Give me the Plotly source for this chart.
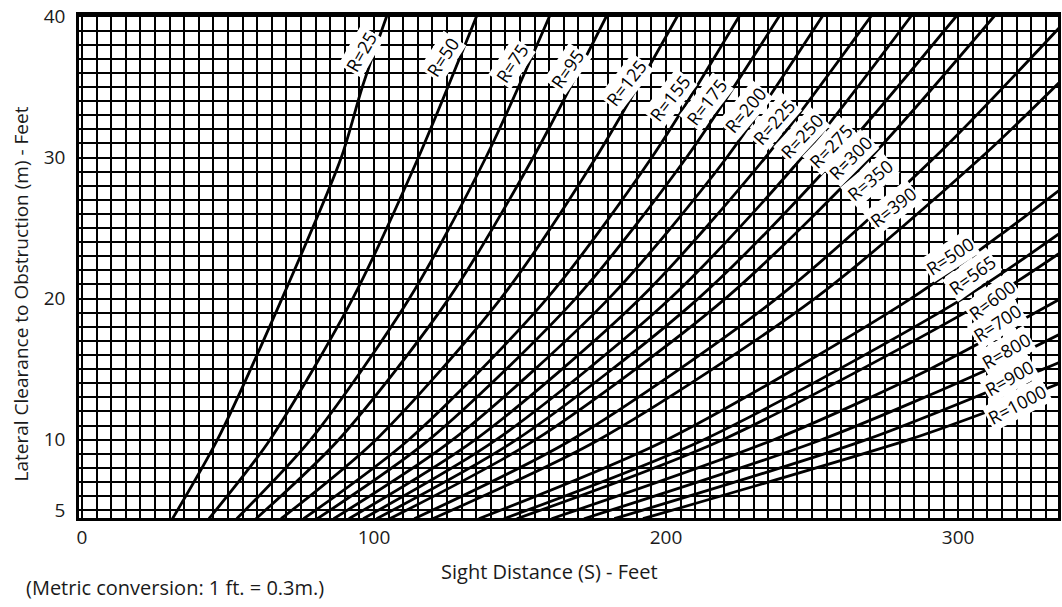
import plotly.graph_objects as go

# ---- Data (Sight distance S [ft] vs lateral clearance m [ft]) ----
RADII = [25, 50, 75, 95, 125, 155, 175, 200, 225, 250, 275, 300,
         350, 390, 500, 565, 600, 700, 800, 900, 1000]

s_r25 = [31.0, 46.4, 68.5, 88.8, 96.0, 104.5]
m_r25 = [4.4, 10, 20, 30, 35, 40.1]
s_r50 = [43.5, 64.4, 92.7, 115.2, 135.3]
m_r50 = [4.4, 10, 20, 30, 40.1]
s_r75 = [53.0, 78.3, 112.1, 138.3, 160.3]
m_r75 = [4.4, 10, 20, 30, 40.1]
s_r95 = [59.6, 87.9, 125.6, 154.5, 179.8]
m_r95 = [4.4, 10, 20, 30, 40.1]
s_r125 = [68.2, 100.7, 143.4, 176.0, 204.1]
m_r125 = [4.4, 10, 20, 30, 40.1]
s_r155 = [75.9, 111.9, 159.2, 195.1, 225.3]
m_r155 = [4.4, 10, 20, 30, 40.1]
s_r175 = [80.6, 118.9, 169.0, 207.0, 239.0]
m_r175 = [4.4, 10, 20, 30, 40.1]
s_r200 = [86.2, 127.0, 180.4, 220.8, 253.8]
m_r200 = [4.4, 10, 20, 30, 40.1]
s_r225 = [91.4, 134.7, 191.1, 234.0, 270.5]
m_r225 = [4.4, 10, 20, 30, 40.1]
s_r250 = [96.3, 141.9, 201.4, 246.5, 284.2]
m_r250 = [4.4, 10, 20, 30, 40.1]
s_r275 = [100.9, 148.8, 211.0, 258.4, 299.7]
m_r275 = [4.4, 10, 20, 30, 40.1]
s_r300 = [105.4, 155.3, 220.3, 270.0, 312.7]
m_r300 = [4.4, 10, 20, 30, 40.1]
s_r350 = [113.8, 167.7, 237.8, 291.9, 336.0]
m_r350 = [4.4, 10, 20, 30, 39.5]
s_r390 = [120.1, 177.0, 250.9, 307.9, 336.0]
m_r390 = [4.4, 10, 20, 30, 35.6]
s_r500 = [135.9, 200.3, 283.8, 317.6, 336.0]
m_r500 = [4.4, 10, 20, 25, 27.9]
s_r565 = [144.5, 212.9, 301.6, 336.0]
m_r565 = [4.4, 10, 20, 24.8]
s_r600 = [148.9, 219.4, 310.7, 336.0]
m_r600 = [4.4, 10, 20, 23.4]
s_r700 = [160.8, 236.9, 290.3, 336.0]
m_r700 = [4.4, 10, 15, 20.1]
s_r800 = [171.9, 253.2, 310.3, 336.0]
m_r800 = [4.4, 10, 15, 17.6]
s_r900 = [182.3, 268.6, 329.1, 336.0]
m_r900 = [4.4, 10, 15, 15.6]
s_r1000 = [192.1, 283.1, 310.2, 336.0]
m_r1000 = [4.4, 10, 12, 14.1]

# curve labels: position (S, m) and text angle
LABEL_S = [95.5, 123.6, 147.3, 166.1, 186.3, 201.4, 214.0, 227.1, 237.0, 246.6,
           256.5, 263.0, 269.9, 277.7, 297.3, 304.8, 311.6, 313.4, 316.4, 317.5, 320.5]
LABEL_M = [37.5, 37.1, 36.7, 36.3, 35.3, 34.2, 33.9, 33.4, 32.5, 31.5,
           30.8, 30.0, 28.4, 26.5, 23.0, 21.7, 19.9, 18.3, 16.3, 14.4, 12.5]
LABEL_ANGLE = [-60, -57, -56, -55, -52, -52, -52, -50, -49, -47,
               -46, -45, -40, -38, -33, -36, -37, -33, -30, -30, -28]

X_LABELED_TICKS = [0, 100, 200, 300]
Y_LABELED_TICKS = [5, 10, 20, 30, 40]
X_GRID_STEP = 5
Y_GRID_STEP = 1

CURVES = [
    (s_r25, m_r25), (s_r50, m_r50), (s_r75, m_r75), (s_r95, m_r95),
    (s_r125, m_r125), (s_r155, m_r155), (s_r175, m_r175), (s_r200, m_r200),
    (s_r225, m_r225), (s_r250, m_r250), (s_r275, m_r275), (s_r300, m_r300),
    (s_r350, m_r350), (s_r390, m_r390), (s_r500, m_r500), (s_r565, m_r565),
    (s_r600, m_r600), (s_r700, m_r700), (s_r800, m_r800), (s_r900, m_r900),
    (s_r1000, m_r1000),
]

FONT = "Open Sans"
TXT = "#1a1a1a"

fig = go.Figure()
for R, (s, m) in zip(RADII, CURVES):
    fig.add_trace(go.Scatter(
        x=s, y=m, mode="lines", name=f"R={R}",
        line=dict(color="black", width=2.8, shape="spline", smoothing=0.8),
        showlegend=False, hoverinfo="skip",
    ))

for R, ls, lm, la in zip(RADII, LABEL_S, LABEL_M, LABEL_ANGLE):
    fig.add_annotation(
        x=ls, y=lm, xref="x", yref="y", text=f"R={R}", showarrow=False,
        textangle=la, bgcolor="white", borderpad=1,
        font=dict(family=FONT, size=18, color="black"),
    )

x_tickvals = list(range(0, 336, X_GRID_STEP))
x_ticktext = [str(v) if v in X_LABELED_TICKS else "" for v in x_tickvals]
y_tickvals = list(range(5, 41, Y_GRID_STEP))
y_ticktext = [str(v) if v in Y_LABELED_TICKS else "" for v in y_tickvals]

fig.update_xaxes(
    range=[-1, 334.2], tickmode="array", tickvals=x_tickvals, ticktext=x_ticktext,
    showgrid=True, gridcolor="black", gridwidth=1.6, zeroline=False,
    showline=True, linecolor="black", linewidth=2.5, mirror=True,
    ticks="", ticklabelstandoff=0, ticklabeloverflow="allow", automargin=False,
    tickfont=dict(family=FONT, size=19, color=TXT),
)
fig.update_yaxes(
    range=[4.45, 40.1], tickmode="array", tickvals=y_tickvals, ticktext=y_ticktext,
    showgrid=True, gridcolor="black", gridwidth=1.6, zeroline=False,
    showline=True, linecolor="black", linewidth=2.5, mirror=True,
    ticks="", ticklabelstandoff=7, ticklabeloverflow="allow", automargin=False,
    tickfont=dict(family=FONT, size=19, color=TXT),
)

fig.add_annotation(
    text="Sight Distance (S) - Feet", xref="paper", yref="paper",
    x=0.481, y=-0.107, showarrow=False, xanchor="center", yanchor="middle",
    font=dict(family=FONT, size=20, color=TXT),
)
fig.add_annotation(
    text="Lateral Clearance to Obstruction (m) - Feet", xref="paper", yref="paper",
    x=-0.059, y=0.445, showarrow=False, textangle=-90,
    xanchor="center", yanchor="middle",
    font=dict(family=FONT, size=19, color=TXT),
)
fig.add_annotation(
    text="(Metric conversion: 1 ft. = 0.3m.)", xref="paper", yref="paper",
    x=-0.056, y=-0.139, showarrow=False, xanchor="left", yanchor="middle",
    font=dict(family=FONT, size=20, color=TXT),
)

fig.update_layout(
    width=1062, height=607,
    margin=dict(l=79, r=4, t=15, b=89),
    paper_bgcolor="white", plot_bgcolor="white",
)

# remove the default 8px page margin so the figure fills the window exactly
fig.write_html("out.html", config={"displayModeBar": False},
               post_script="document.body.style.margin='0';")
